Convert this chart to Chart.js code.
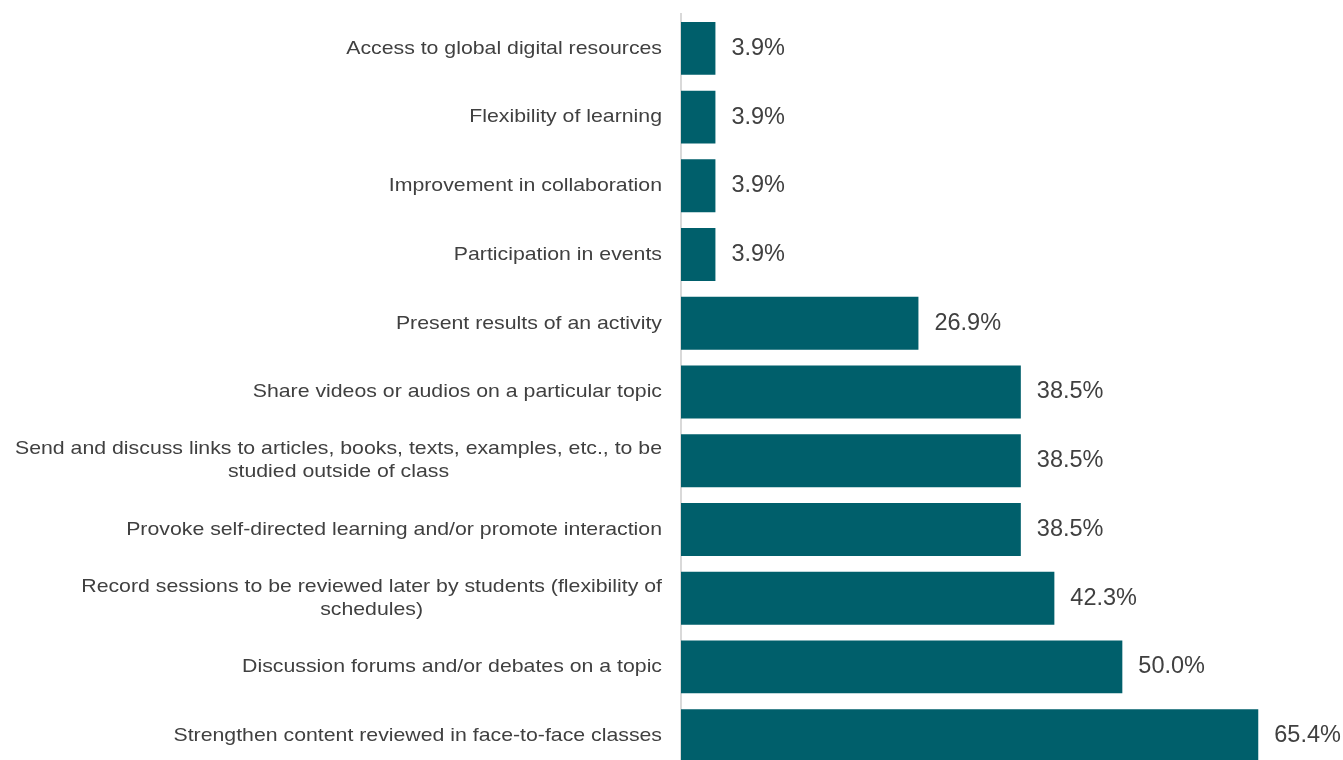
<!DOCTYPE html>
<html>
<head>
<meta charset="utf-8">
<script src="https://cdn.jsdelivr.net/npm/chart.js@4/dist/chart.umd.min.js"></script>
<style>
  html, body { margin: 0; padding: 0; background: #fff; overflow: hidden; }
  #wrap { width: 1343px; height: 770px; position: relative; }
</style>
</head>
<body>
<div id="wrap"><canvas id="bars"></canvas></div>
<script>
const categories = [
  ['Access to global digital resources'],
  ['Flexibility of learning'],
  ['Improvement in collaboration'],
  ['Participation in events'],
  ['Present results of an activity'],
  ['Share videos or audios on a particular topic'],
  ['Send and discuss links to articles, books, texts, examples, etc., to be', 'studied outside of class'],
  ['Provoke self-directed learning and/or promote interaction'],
  ['Record sessions to be reviewed later by students (flexibility of', 'schedules)'],
  ['Discussion forums and/or debates on a topic'],
  ['Strengthen content reviewed in face-to-face classes']
];
const shares = [3.9, 3.9, 3.9, 3.9, 26.9, 38.5, 38.5, 38.5, 42.3, 50.0, 65.4];

const labelFont = '19px "Liberation Sans", Arial, sans-serif';
const valueFont = '23.5px "Liberation Sans", Arial, sans-serif';
const stretch = 1.12; // the original text is a little wider than Liberation Sans

// category labels: right aligned block, lines centred inside the block
const sideLabels = {
  id: 'sideLabels',
  afterDraw(chart) {
    const ctx = chart.ctx;
    const y = chart.scales.y;
    const right = chart.chartArea.left - 19;
    ctx.save();
    ctx.font = labelFont;
    ctx.fillStyle = '#404040';
    ctx.textBaseline = 'middle';
    ctx.textAlign = 'center';
    categories.forEach((lines, i) => {
      const widest = Math.max(...lines.map(l => ctx.measureText(l).width)) * stretch;
      const cx = right - widest / 2;
      const cy = y.getPixelForValue(i);
      const lh = 23;
      lines.forEach((l, k) => {
        ctx.save();
        ctx.translate(cx, cy + (k - (lines.length - 1) / 2) * lh);
        ctx.scale(stretch, 1);
        ctx.fillText(l, 0, 0);
        ctx.restore();
      });
    });
    ctx.restore();
  }
};

// value labels at the end of each bar
const valueLabels = {
  id: 'valueLabels',
  afterDatasetsDraw(chart) {
    const ctx = chart.ctx;
    const meta = chart.getDatasetMeta(0);
    ctx.save();
    ctx.font = valueFont;
    ctx.fillStyle = '#404040';
    ctx.textBaseline = 'middle';
    ctx.textAlign = 'left';
    meta.data.forEach((bar, i) => {
      ctx.fillText(shares[i].toFixed(1) + '%', bar.x + 16, bar.y);
    });
    ctx.restore();
  }
};

new Chart(document.getElementById('bars'), {
  type: 'bar',
  data: {
    labels: categories,
    datasets: [{
      data: shares,
      backgroundColor: '#005F6B',
      borderWidth: 0,
      categoryPercentage: 1,
      barPercentage: 0.77
    }]
  },
  options: {
    indexAxis: 'y',
    responsive: true,
    maintainAspectRatio: false,
    animation: false,
    layout: { padding: { left: 681, top: 14, right: 0, bottom: 0 } },
    plugins: { legend: { display: false }, tooltip: { enabled: false } },
    scales: {
      x: {
        min: 0,
        max: 75,
        display: false
      },
      y: {
        ticks: { display: false },
        grid: { display: false, drawTicks: false },
        border: { display: true, color: '#D9D9D9', width: 2 }
      }
    }
  },
  plugins: [sideLabels, valueLabels]
});
</script>
</body>
</html>
